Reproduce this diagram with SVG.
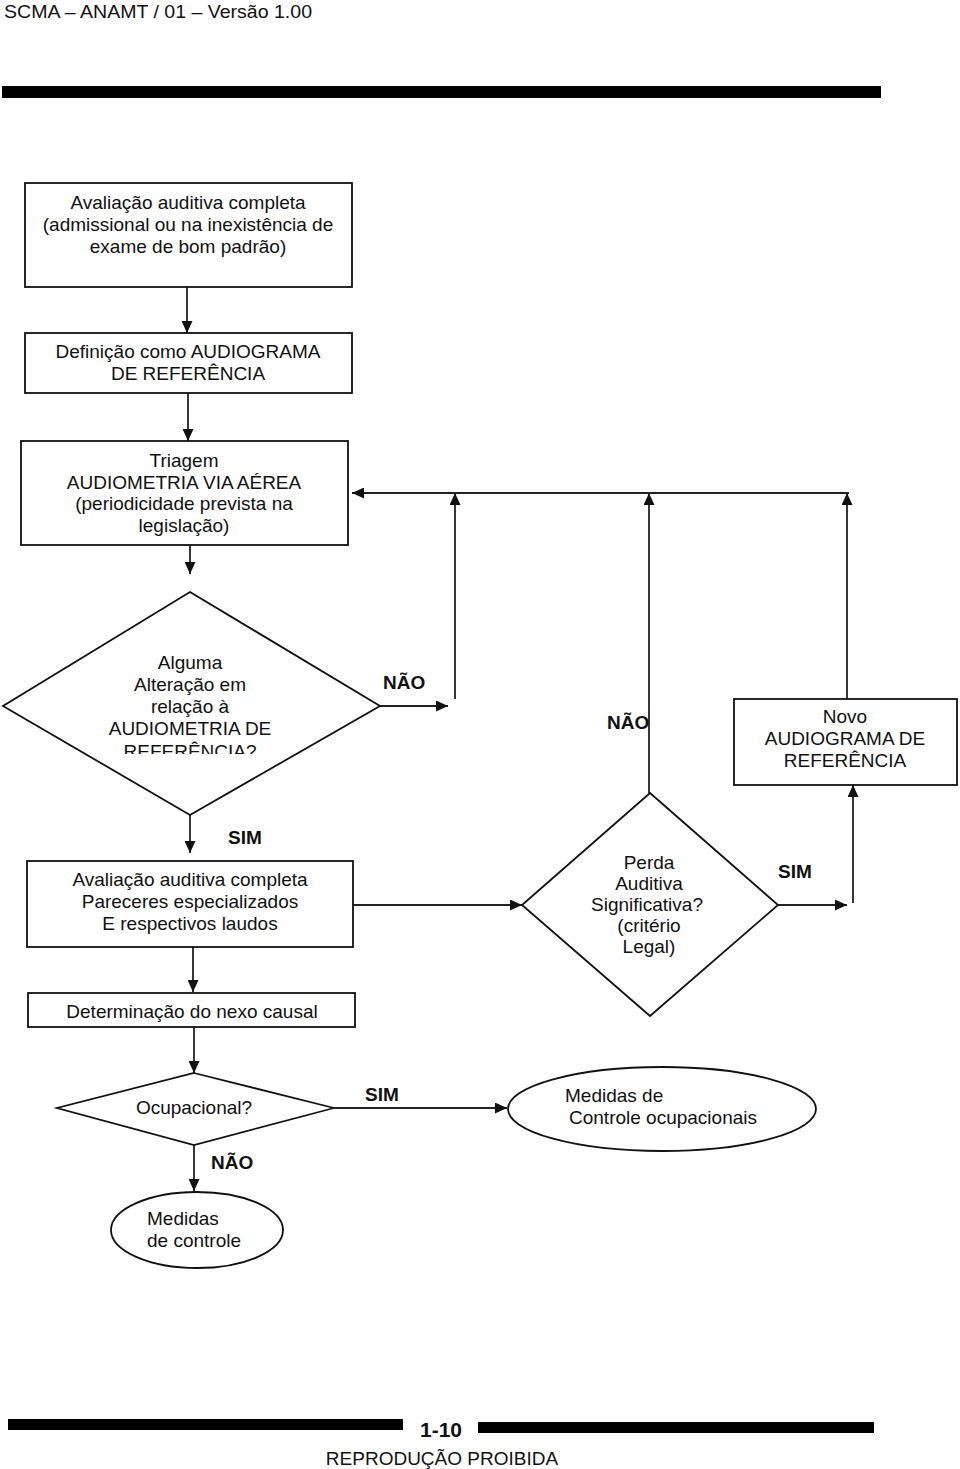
<svg xmlns="http://www.w3.org/2000/svg" width="960" height="1469" viewBox="0 0 960 1469">
<style>
text{font-family:"Liberation Sans",Arial,sans-serif;font-size:19px;fill:#111}
.c{text-anchor:middle}
.b{font-weight:bold}
.shape{fill:#fff;stroke:#111;stroke-width:1.8}
.ln{fill:none;stroke:#222;stroke-width:1.8}
</style>
<defs>
<marker id="ah" viewBox="0 0 12 11" refX="12" refY="5.5" markerWidth="12" markerHeight="11" markerUnits="userSpaceOnUse" orient="auto">
<path d="M0,0 L12,5.5 L0,11 Z" fill="#111"/>
</marker>
<clipPath id="clipD1"><rect x="0" y="590" width="390" height="164"/></clipPath>
</defs>
<rect width="960" height="1469" fill="#fff"/>

<g id="header">
<text x="4" y="18" textLength="308" lengthAdjust="spacingAndGlyphs">SCMA – ANAMT / 01 – Versão 1.00</text>
<rect x="2" y="86" width="879" height="12" fill="#000"/>
</g>

<g id="connectors">
<line class="ln" x1="187" y1="287" x2="187" y2="333" marker-end="url(#ah)"/>
<line class="ln" x1="188" y1="393" x2="188" y2="441" marker-end="url(#ah)"/>
<line class="ln" x1="190" y1="545" x2="190" y2="574" marker-end="url(#ah)"/>
<line class="ln" x1="380" y1="706" x2="448" y2="706" marker-end="url(#ah)"/>
<line class="ln" x1="455" y1="699" x2="455" y2="493" marker-end="url(#ah)"/>
<line class="ln" x1="649" y1="793" x2="649" y2="493" marker-end="url(#ah)"/>
<line class="ln" x1="847" y1="699" x2="847" y2="493" marker-end="url(#ah)"/>
<line class="ln" x1="849" y1="493" x2="352" y2="493" marker-end="url(#ah)"/>
<line class="ln" x1="190" y1="815" x2="190" y2="853" marker-end="url(#ah)"/>
<line class="ln" x1="353" y1="905" x2="522" y2="905" marker-end="url(#ah)"/>
<line class="ln" x1="778" y1="905" x2="847" y2="905" marker-end="url(#ah)"/>
<line class="ln" x1="853" y1="903" x2="853" y2="785" marker-end="url(#ah)"/>
<line class="ln" x1="193" y1="947" x2="193" y2="992" marker-end="url(#ah)"/>
<line class="ln" x1="194" y1="1027" x2="194" y2="1073" marker-end="url(#ah)"/>
<line class="ln" x1="334" y1="1108" x2="507" y2="1108" marker-end="url(#ah)"/>
<line class="ln" x1="194" y1="1145" x2="194" y2="1191" marker-end="url(#ah)"/>
<text class="b" x="383" y="689">NÃO</text>
<text class="b" x="607" y="729">NÃO</text>
<text class="b" x="228" y="844">SIM</text>
<text class="b" x="778" y="878">SIM</text>
<text class="b" x="365" y="1101">SIM</text>
<text class="b" x="211" y="1169">NÃO</text>
</g>

<g id="box1">
<rect class="shape" x="25" y="183" width="327" height="104"/>
<text class="c" x="188" y="209">Avaliação auditiva completa</text>
<text class="c" x="188" y="231">(admissional ou na inexistência de</text>
<text class="c" x="188" y="253">exame de bom padrão)</text>
</g>

<g id="box2">
<rect class="shape" x="25" y="333" width="327" height="60"/>
<text class="c" x="188" y="358">Definição como AUDIOGRAMA</text>
<text class="c" x="188" y="380">DE REFERÊNCIA</text>
</g>

<g id="box3">
<rect class="shape" x="21" y="441" width="327" height="104"/>
<text class="c" x="184" y="467">Triagem</text>
<text class="c" x="184" y="489">AUDIOMETRIA VIA AÉREA</text>
<text class="c" x="184" y="510">(periodicidade prevista na</text>
<text class="c" x="184" y="532">legislação)</text>
</g>

<g id="diamond1">
<polygon class="shape" points="190,592 380,706 190,815 3,706"/>
<g clip-path="url(#clipD1)">
<text class="c" x="190" y="669">Alguma</text>
<text class="c" x="190" y="691">Alteração em</text>
<text class="c" x="190" y="713">relação à</text>
<text class="c" x="190" y="735">AUDIOMETRIA DE</text>
<text class="c" x="190" y="758">REFERÊNCIA?</text>
</g>
</g>

<g id="box-novo">
<rect class="shape" x="734" y="699" width="223" height="86"/>
<text class="c" x="845" y="723">Novo</text>
<text class="c" x="845" y="745">AUDIOGRAMA DE</text>
<text class="c" x="845" y="767">REFERÊNCIA</text>
</g>

<g id="box4">
<rect class="shape" x="27" y="861" width="326" height="86"/>
<text class="c" x="190" y="886">Avaliação auditiva completa</text>
<text class="c" x="190" y="908">Pareceres especializados</text>
<text class="c" x="190" y="930">E respectivos laudos</text>
</g>

<g id="diamond-perda">
<polygon class="shape" points="650,793 778,905 650,1016 522,905"/>
<text class="c" x="649" y="869">Perda</text>
<text class="c" x="649" y="890">Auditiva</text>
<text class="c" x="647" y="911">Significativa?</text>
<text class="c" x="649" y="932">(critério</text>
<text class="c" x="649" y="953">Legal)</text>
</g>

<g id="box-nexo">
<rect class="shape" x="28" y="993" width="327" height="34"/>
<text class="c" x="192" y="1018">Determinação do nexo causal</text>
</g>

<g id="diamond-ocup">
<polygon class="shape" points="194,1073 334,1108 194,1145 57,1108"/>
<text class="c" x="194" y="1114">Ocupacional?</text>
</g>

<g id="ellipse-ocup">
<ellipse class="shape" cx="662" cy="1109" rx="154" ry="42"/>
<text x="565" y="1102">Medidas de</text>
<text x="569" y="1124">Controle ocupacionais</text>
</g>

<g id="ellipse-controle">
<ellipse class="shape" cx="197" cy="1230" rx="86" ry="38"/>
<text x="147" y="1225">Medidas</text>
<text x="147" y="1247">de controle</text>
</g>

<g id="footer">
<rect x="8" y="1419" width="395" height="11" fill="#000"/>
<rect x="478" y="1422" width="396" height="11" fill="#000"/>
<text class="b" x="420" y="1437" style="font-size:21px">1-10</text>
<text class="c" x="442" y="1465">REPRODUÇÃO PROIBIDA</text>
</g>
</svg>
